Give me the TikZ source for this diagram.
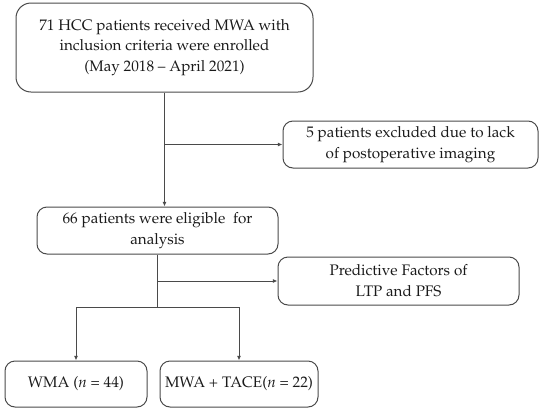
\documentclass[tikz,border=0pt]{standalone}
\usepackage[T1]{fontenc}
\usepackage{mathpazo}
\usepackage{xcolor}
\usetikzlibrary{arrows.meta}
\definecolor{flowline}{HTML}{4A4A4A}
\definecolor{flowtext}{HTML}{1A1A1A}

\begin{document}
\begin{tikzpicture}[
    x=0.6pt, y=-0.6pt,
    box/.style={draw=flowline, line width=0.6pt, rounded corners=6pt, align=center,
      inner sep=0pt, text=flowtext, font=\fontsize{9.15}{12.5}\selectfont},
    arrow/.style={-{Latex[length=2.8pt,width=2.4pt]}, line width=0.6pt, draw=flowline},
    link/.style={line width=0.6pt, draw=flowline}
  ]
    \useasboundingbox (0,0) rectangle (550,412);

    \node[box, rounded corners=9pt, minimum width=297*0.6pt, minimum height=89*0.6pt] (enrolled) at (164.5,47.5)
      {71 HCC patients received MWA with\\inclusion criteria were enrolled\\(May 2018 -- April 2021)};
    \node[box, minimum width=255*0.6pt, minimum height=47*0.6pt] (excluded) at (410.5,144.5)
      {5 patients excluded due to lack\\of postoperative imaging};
    \node[box, minimum width=241*0.6pt, minimum height=47*0.6pt] (eligible) at (157.5,230.5)
      {66 patients were eligible\ \ for\\analysis};
    \node[box, minimum width=241*0.6pt, minimum height=48*0.6pt] (factors) at (398.5,281)
      {Predictive Factors of\\LTP and PFS};
    \node[box, minimum width=142*0.6pt, minimum height=46*0.6pt] (wma) at (76,384)
      {WMA (\textit{n} = 44)};
    \node[box, minimum width=158*0.6pt, minimum height=46*0.6pt] (tace) at (239,384)
      {MWA + TACE(\textit{n} = 22)};
    \coordinate (split) at (157.5,307);

    \draw[arrow] (enrolled.south) -- (enrolled.south |- eligible.north);
    \draw[arrow] (enrolled.south |- excluded.west) -- (excluded.west);
    \draw[link] (eligible.south) -- (split);
    \draw[arrow] (eligible.south |- factors.west) -- (factors.west);
    \draw[arrow] (split) -| (wma.north);
    \draw[arrow] (split) -| (tace.north);
  \end{tikzpicture}
\end{document}
